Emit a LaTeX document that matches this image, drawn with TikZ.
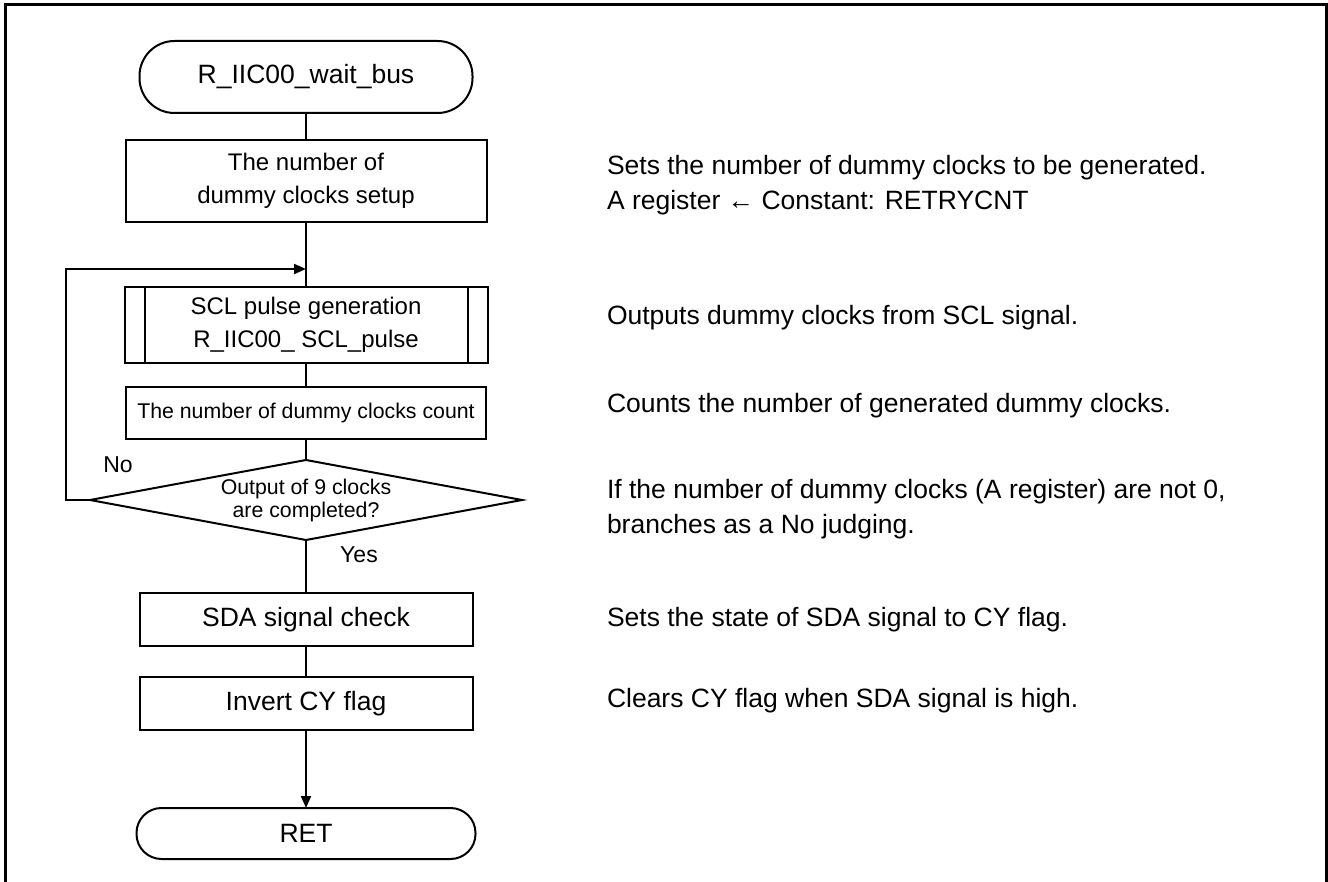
\documentclass[tikz,border=0pt]{standalone}
\usepackage{fontspec}
\setmainfont{Liberation Sans}
\usetikzlibrary{positioning,shapes.geometric,arrows.meta}

\begin{document}
\begin{tikzpicture}[
    x=1pt, y=-1pt, line width=2pt,
    every node/.style={inner sep=0pt, outer sep=0pt},
    terminal/.style={draw, rounded corners=35pt, minimum width=333pt, minimum height=72pt, font=\fontsize{26.5}{33}\selectfont},
    process/.style={draw, minimum width=361pt, minimum height=82pt, align=center, font=\fontsize{24}{33}\selectfont},
    subproc/.style={process, minimum width=363pt, minimum height=76pt, path picture={
        \draw ([xshift=20pt]path picture bounding box.north west) -- ([xshift=20pt]path picture bounding box.south west);
        \draw ([xshift=-20pt]path picture bounding box.north east) -- ([xshift=-20pt]path picture bounding box.south east);}},
    decision/.style={draw, diamond, aspect=5.4, minimum width=432pt, minimum height=80pt, align=center, font=\fontsize{21.3}{23}\selectfont},
    note/.style={anchor=west, align=left, font=\fontsize{26.5}{35}\selectfont},
    branchtxt/.style={font=\fontsize{23}{27}\selectfont},
    arrow/.style={-{Triangle[length=12pt,width=10pt]}}
]
    \useasboundingbox (0,0) rectangle (1328,882);
    \draw[line width=3pt] (5,890) -- (5,5) -- (1326,5) -- (1326,890);

    % Nodes
    \node [terminal] (start) at (306,77) {R\_IIC00\_wait\_bus};
    \node [process, below=27pt of start] (setup) {The number of\\dummy clocks setup};
    \node [subproc, below=65pt of setup] (pulse) {SCL pulse generation\\R\_IIC00\_ SCL\_pulse};
    \node [process, minimum width=360pt, minimum height=52pt, font=\fontsize{21.3}{23}\selectfont, below=24pt of pulse] (count) {The number of dummy clocks count};
    \node [decision, below=21pt of count] (check) {Output of 9 clocks\\are completed?};
    \node [process, minimum width=333pt, minimum height=53pt, font=\fontsize{26.5}{33}\selectfont, below=53pt of check] (sda) {SDA signal check};
    \node [process, minimum width=333pt, minimum height=53pt, font=\fontsize{26.5}{33}\selectfont, below=31pt of sda] (invert) {Invert CY flag};
    \node [terminal, minimum width=339pt, minimum height=51pt, rounded corners=25pt, below=78pt of invert] (ret) {RET};

    \coordinate (join) at ([yshift=-47pt]setup.south);
    \node [branchtxt] (no) at (118,465) {No};
    \node [branchtxt] (yes) at (359,555) {Yes};

    % Notes
    \node [note] (setupnote) at (607,185.5) {Sets the number of dummy clocks to be generated.\\A register ← Constant: RETRYCNT};
    \node [note, anchor=base west] (pulsenote) at (607,325) {Outputs dummy clocks from SCL signal.};
    \node [note, anchor=base west] (countnote) at (607,413) {Counts the number of generated dummy clocks.};
    \node [note] (checknote) at (607,509.5) {If the number of dummy clocks (A register) are not 0,\\branches as a No judging.};
    \node [note, anchor=base west] (sdanote) at (607,626) {Sets the state of SDA signal to CY flag.};
    \node [note, anchor=base west] (invertnote) at (607,707) {Clears CY flag when SDA signal is high.};

    % Paths
    \draw (start) -- (setup);
    \draw (setup) -- (pulse);
    \draw (pulse) -- (count);
    \draw (count) -- (check);
    \draw [arrow] (check.west) -- ++(-24,0) |- (join);
    \draw (check) -- (sda);
    \draw (sda) -- (invert);
    \draw [arrow] (invert) -- (ret);
\end{tikzpicture}
\end{document}
